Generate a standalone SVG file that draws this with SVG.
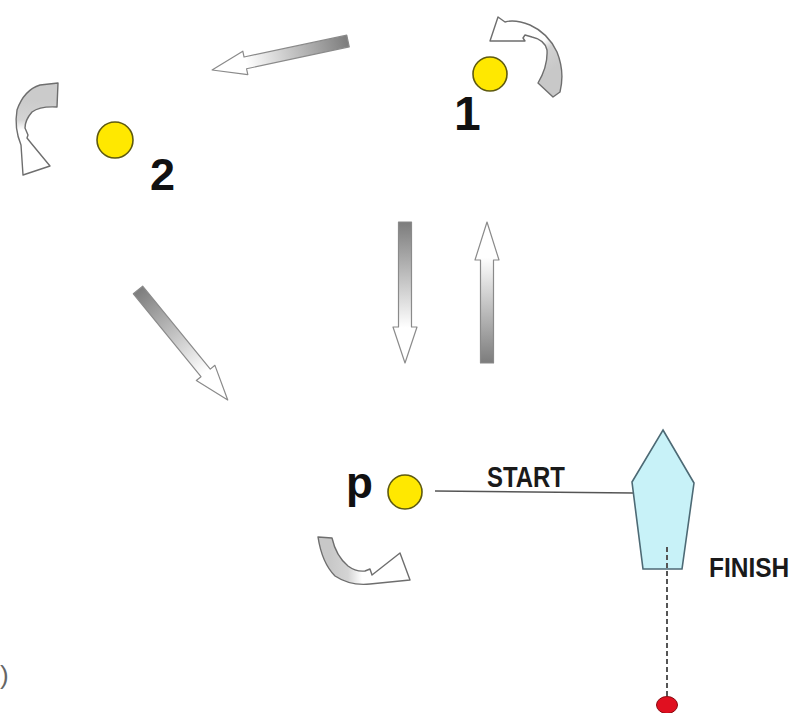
<svg xmlns="http://www.w3.org/2000/svg" width="795" height="713" viewBox="0 0 795 713">
<style>
.mark{fill:#ffe800;stroke:#5e5a10;stroke-width:1.6}
.num{font-family:"Liberation Sans",Arial,sans-serif;font-weight:bold;fill:#111}
.lbl{font-family:"Liberation Sans",Arial,sans-serif;font-weight:bold;fill:#1a1a1a}
.arr{fill:url(#sg);stroke:#8a8a8a;stroke-width:1.2;stroke-linejoin:round}
.curve{stroke:#6e6e6e;stroke-width:1.4;stroke-linejoin:round}
</style>
<defs>
<linearGradient id="sg" x1="0" y1="0" x2="1" y2="0">
<stop offset="0" stop-color="#7c7c7c"/>
<stop offset="0.55" stop-color="#dcdcdc"/>
<stop offset="0.75" stop-color="#ffffff"/>
<stop offset="1" stop-color="#ffffff"/>
</linearGradient>
<linearGradient id="c1" gradientUnits="userSpaceOnUse" x1="520" y1="30" x2="552" y2="70">
<stop offset="0" stop-color="#ffffff"/>
<stop offset="0.45" stop-color="#ffffff"/>
<stop offset="0.62" stop-color="#d2d2d2"/>
<stop offset="1" stop-color="#c8c8c8"/>
</linearGradient>
<linearGradient id="c2" gradientUnits="userSpaceOnUse" x1="0" y1="100" x2="0" y2="140">
<stop offset="0" stop-color="#cbcbcb"/>
<stop offset="0.5" stop-color="#d4d4d4"/>
<stop offset="0.75" stop-color="#ffffff"/>
<stop offset="1" stop-color="#ffffff"/>
</linearGradient>
<linearGradient id="c3" gradientUnits="userSpaceOnUse" x1="330" y1="0" x2="370" y2="0">
<stop offset="0" stop-color="#c8c8c8"/>
<stop offset="0.45" stop-color="#d4d4d4"/>
<stop offset="0.8" stop-color="#ffffff"/>
<stop offset="1" stop-color="#ffffff"/>
</linearGradient>
</defs>
<rect width="795" height="713" fill="#ffffff"/>

<g id="connectors">
<path class="arr" transform="translate(348,41) rotate(167.96)" d="M0,-6 L105,-6 L105,-12 L139,0 L105,12 L105,6 L0,6 Z"/>
<path class="arr" transform="translate(138,290) rotate(50.8)" d="M0,-6 L107,-6 L107,-12 L142,0 L107,12 L107,6 L0,6 Z"/>
<path class="arr" transform="translate(405,222) rotate(90)" d="M0,-6.5 L105,-6.5 L105,-12 L141,0 L105,12 L105,6.5 L0,6.5 Z"/>
<path class="arr" transform="translate(487,363) rotate(-90)" d="M0,-6.5 L103,-6.5 L103,-12 L141,0 L103,12 L103,6.5 L0,6.5 Z"/>
<line x1="435" y1="491" x2="633" y2="493" stroke="#555" stroke-width="1.3"/>
<line x1="667" y1="547" x2="667" y2="697" stroke="#555" stroke-width="2" stroke-dasharray="5,3"/>
</g>

<g id="mark1">
<path class="curve" fill="url(#c1)" d="M498,17 L505,22 Q515,19 530,25 Q548,33 557,52 Q565,72 560,92 L553,97 L538,83 Q548,66 547,50 Q545,40 532,37 L525,35 L523,38 L525,41 L490,41 Z"/>
<circle class="mark" cx="490" cy="74" r="17"/>
<text class="num" x="454" y="130" font-size="48">1</text>
</g>

<g id="mark2">
<path class="curve" fill="url(#c2)" d="M58,83 L57,107 Q40,106 32,112 Q25,120 25,128 L28,135 L27,138 L31,143 L50,166 L23,175 L21,145 Q14,128 17,110 Q24,90 40,85 Z"/>
<circle class="mark" cx="115" cy="140" r="18"/>
<text class="num" x="150" y="190" font-size="45">2</text>
</g>

<g id="markp">
<path class="curve" fill="url(#c3)" d="M318,537 L332,538 Q336,556 348,566 Q356,572 365,571 L370,569 L372,575 L400,553 L410,580 L370,584 Q350,586 335,576 Q322,563 318,537 Z"/>
<circle class="mark" cx="405" cy="492" r="17"/>
<text class="num" x="346" y="498" font-size="44">p</text>
</g>

<g id="boat">
<polygon points="663,430 694,483 682,569 643,569 632,482" fill="#c8f2f8" stroke="#4d6a75" stroke-width="1.6"/>
<line x1="667" y1="547" x2="667" y2="569" stroke="#555" stroke-width="2" stroke-dasharray="5,3"/>
</g>

<g id="pin">
<ellipse cx="667" cy="705" rx="10.5" ry="8.5" fill="#e01020" stroke="#8a0a10" stroke-width="1"/>
</g>

<text class="lbl" x="487" y="487" font-size="29" textLength="78" lengthAdjust="spacingAndGlyphs">START</text>
<text class="lbl" transform="translate(709,577) scale(1,1.15)" x="0" y="0" font-size="24.5">FINISH</text>
<text x="0" y="684" font-family="Liberation Sans,Arial,sans-serif" font-size="26" fill="#666">)</text>
</svg>
